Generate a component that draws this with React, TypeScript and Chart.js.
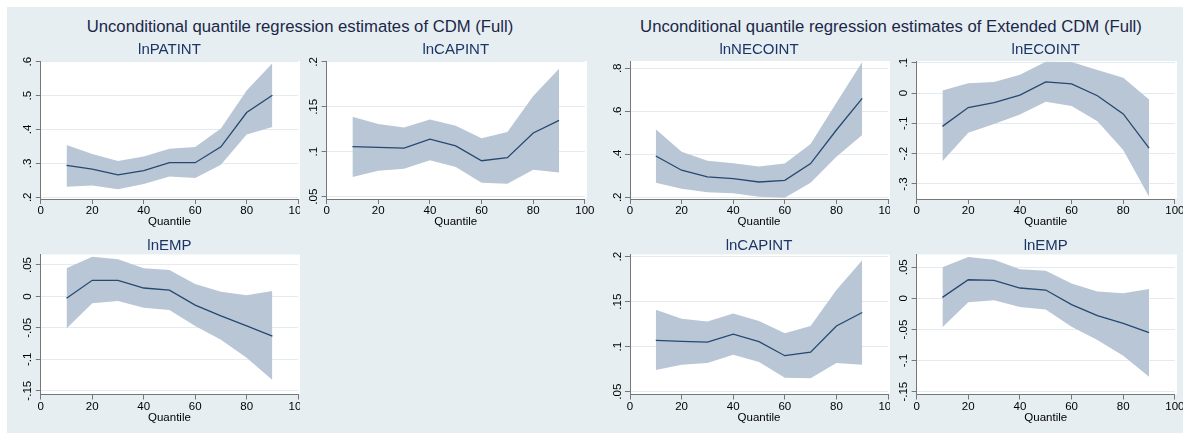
import React, { useEffect, useRef } from 'react';
import { Chart, registerables } from 'chart.js';

Chart.register(...registerables);

// ---------- data ----------
const quantiles = [10, 20, 30, 40, 50, 60, 70, 80, 90];
const xTicks = [0, 20, 40, 60, 80, 100];

// CDM (Full)
const cdmPatintEst = [0.294, 0.283, 0.266, 0.279, 0.302, 0.302, 0.349, 0.45, 0.501];
const cdmPatintHi = [0.354, 0.328, 0.307, 0.32, 0.343, 0.348, 0.403, 0.515, 0.595];
const cdmPatintLo = [0.231, 0.235, 0.224, 0.239, 0.261, 0.257, 0.296, 0.385, 0.407];

const cdmCapintEst = [0.1057, 0.105, 0.104, 0.114, 0.1065, 0.09, 0.0935, 0.121, 0.135];
const cdmCapintHi = [0.139, 0.131, 0.127, 0.136, 0.129, 0.115, 0.122, 0.162, 0.1926];
const cdmCapintLo = [0.072, 0.079, 0.081, 0.0905, 0.083, 0.0656, 0.0645, 0.08, 0.077];

const cdmEmpEst = [-0.003, 0.0256, 0.0256, 0.0134, 0.01, -0.0137, -0.031, -0.047, -0.063];
const cdmEmpHi = [0.045, 0.063, 0.059, 0.0447, 0.042, 0.0198, 0.0076, 0.002, 0.0086];
const cdmEmpLo = [-0.051, -0.011, -0.0073, -0.018, -0.0216, -0.047, -0.069, -0.0975, -0.133];

// Extended CDM (Full)
const extNecointEst = [0.392, 0.326, 0.295, 0.287, 0.271, 0.279, 0.357, 0.513, 0.66];
const extNecointHi = [0.516, 0.412, 0.37, 0.358, 0.343, 0.357, 0.448, 0.64, 0.829];
const extNecointLo = [0.268, 0.24, 0.223, 0.219, 0.203, 0.198, 0.268, 0.389, 0.49];

const extEcointEst = [-0.11, -0.048, -0.032, -0.0066, 0.037, 0.03, -0.009, -0.069, -0.182];
const extEcointHi = [0.008, 0.032, 0.036, 0.06, 0.103, 0.102, 0.076, 0.05, -0.021];
const extEcointLo = [-0.225, -0.131, -0.102, -0.071, -0.029, -0.043, -0.093, -0.188, -0.342];

const extCapintEst = [0.107, 0.106, 0.105, 0.114, 0.1056, 0.09, 0.094, 0.123, 0.138];
const extCapintHi = [0.141, 0.131, 0.128, 0.137, 0.1285, 0.115, 0.123, 0.163, 0.196];
const extCapintLo = [0.074, 0.08, 0.082, 0.091, 0.083, 0.0656, 0.065, 0.082, 0.08];

const extEmpEst = [0.0017, 0.03, 0.029, 0.0167, 0.0135, -0.01, -0.0277, -0.04, -0.055];
const extEmpHi = [0.05, 0.0666, 0.062, 0.047, 0.0446, 0.024, 0.011, 0.0082, 0.015];
const extEmpLo = [-0.0465, -0.0063, -0.003, -0.014, -0.018, -0.0454, -0.067, -0.092, -0.126];

// y tick values
const patTicks = [0.2, 0.3, 0.4, 0.5, 0.6];
const capTicks = [0.05, 0.1, 0.15, 0.2];
const empTicks = [-0.15, -0.1, -0.05, 0, 0.05];
const necoTicks = [0.2, 0.4, 0.6, 0.8];
const ecoTicks = [-0.3, -0.2, -0.1, 0, 0.1];

const leftTitle = 'Unconditional quantile regression estimates of CDM (Full)';
const rightTitle = 'Unconditional quantile regression estimates of Extended CDM (Full)';
const xTitle = 'Quantile';

// ---------- style ----------
const FONT = '"Liberation Sans", Arial, Helvetica, sans-serif';
const BG = '#e6eef1';
const BAND = '#b9c6d5';
const LINE = '#264870';
const AXIS = '#777777';
const GRID = '#e3ebee';
const TEXT = '#000000';
const TICK_SIZE = 11.5;

const COLS = [
  { left: 8, right: 300, chartLeft: 40.8, chartRight: 298.1 },
  { left: 300, right: 598, chartLeft: 326.6, chartRight: 584.9 },
  { left: 598, right: 890, chartLeft: 630, chartRight: 888 },
  { left: 890, right: 1183, chartLeft: 916.6, chartRight: 1174.9 },
];
const ROWS = [
  { top: 38, bottom: 232, chartTop: 61, chartBottom: 199, quantileY: 222, titleY: 49.2 },
  { top: 232, bottom: 433, chartTop: 254.5, chartBottom: 394.5, quantileY: 418.3, titleY: 244.5 },
];

const panels = [
  { title: 'lnPATINT', col: 0, row: 0, est: cdmPatintEst, hi: cdmPatintHi, lo: cdmPatintLo, ticks: patTicks, yMin: 0.195, yMax: 0.602 },
  { title: 'lnCAPINT', col: 1, row: 0, est: cdmCapintEst, hi: cdmCapintHi, lo: cdmCapintLo, ticks: capTicks, yMin: 0.0474, yMax: 0.2011 },
  { title: 'lnEMP', col: 0, row: 1, est: cdmEmpEst, hi: cdmEmpHi, lo: cdmEmpLo, ticks: empTicks, yMin: -0.156, yMax: 0.0667 },
  { title: 'lnNECOINT', col: 2, row: 0, est: extNecointEst, hi: extNecointHi, lo: extNecointLo, ticks: necoTicks, yMin: 0.192, yMax: 0.834 },
  { title: 'lnECOINT', col: 3, row: 0, est: extEcointEst, hi: extEcointHi, lo: extEcointLo, ticks: ecoTicks, yMin: -0.3495, yMax: 0.1056 },
  { title: 'lnCAPINT', col: 2, row: 1, est: extCapintEst, hi: extCapintHi, lo: extCapintLo, ticks: capTicks, yMin: 0.0469, yMax: 0.2024 },
  { title: 'lnEMP', col: 3, row: 1, est: extEmpEst, hi: extEmpHi, lo: extEmpLo, ticks: empTicks, yMin: -0.1545, yMax: 0.0706 },
];

function fmtTick(v: number): string {
  if (Math.abs(v) < 1e-12) return '0';
  const s = String(+v.toFixed(4));
  return s.replace(/^(-?)0\./, '$1.');
}

const bgPlugin = {
  id: 'stataBg',
  beforeDraw(chart: any) {
    const { ctx, chartArea, width, height } = chart;
    ctx.save();
    ctx.fillStyle = BG;
    ctx.fillRect(0, 0, width, height);
    ctx.fillStyle = '#ffffff';
    ctx.fillRect(chartArea.left, chartArea.top, chartArea.right - chartArea.left + 2, chartArea.bottom - chartArea.top);
    ctx.restore();
  },
};

const yLabelPlugin = {
  id: 'rotatedYLabels',
  afterDraw(chart: any) {
    const s = chart.scales.y;
    const ctx = chart.ctx;
    ctx.save();
    ctx.font = `${TICK_SIZE}px ${FONT}`;
    ctx.fillStyle = TEXT;
    ctx.textAlign = 'center';
    ctx.textBaseline = 'alphabetic';
    s.ticks.forEach((t: any) => {
      const y = s.getPixelForValue(t.value);
      ctx.save();
      ctx.translate(chart.chartArea.left - 9.5, y);
      ctx.rotate(-Math.PI / 2);
      ctx.fillText(fmtTick(t.value), 0, 0);
      ctx.restore();
    });
    ctx.restore();
  },
};

function Panel({ p }: { p: any }) {
  const ref = useRef<HTMLCanvasElement | null>(null);
  const col = COLS[p.col];
  const row = ROWS[p.row];
  const w = col.right - col.left;
  const h = row.bottom - row.top;

  useEffect(() => {
    if (!ref.current) return;
    const yw = col.chartLeft - col.left;
    const xh = row.bottom - row.chartBottom;
    const lh = TICK_SIZE * 1.2;
    const pts = (arr: number[]) => quantiles.map((q, i) => ({ x: q, y: arr[i] }));
    const chart = new Chart(ref.current, {
      type: 'line',
      data: {
        datasets: [
          { data: pts(p.est), borderColor: LINE, borderWidth: 1.3, pointRadius: 0, fill: false, tension: 0 },
          { data: pts(p.hi), borderColor: 'rgba(0,0,0,0)', borderWidth: 0, backgroundColor: BAND, pointRadius: 0, fill: '+1', tension: 0 },
          { data: pts(p.lo), borderColor: 'rgba(0,0,0,0)', borderWidth: 0, pointRadius: 0, fill: false, tension: 0 },
        ],
      },
      options: {
        animation: false,
        responsive: false,
        maintainAspectRatio: false,
        events: [],
        layout: { padding: { left: 0, top: row.chartTop - row.top, right: col.right - col.chartRight, bottom: 0 } },
        plugins: { legend: { display: false }, tooltip: { enabled: false }, title: { display: false } },
        scales: {
          x: {
            type: 'linear',
            min: 0,
            max: 100,
            afterBuildTicks: (s: any) => { s.ticks = xTicks.map((v) => ({ value: v })); },
            afterFit: (s: any) => { s.height = xh; s.paddingLeft = 0; s.paddingRight = 0; },
            ticks: { font: { family: FONT, size: TICK_SIZE }, color: TEXT, padding: 0, maxRotation: 0, autoSkip: false, callback: (v: any) => String(v) },
            grid: { drawOnChartArea: false, drawTicks: true, tickLength: 5, color: AXIS, tickColor: AXIS },
            border: { display: true, color: AXIS, width: 1 },
            title: { display: true, text: xTitle, font: { family: FONT, size: TICK_SIZE }, color: TEXT, padding: { top: 0, bottom: row.bottom - row.quantileY - lh / 2 } },
          },
          y: {
            type: 'linear',
            min: p.yMin,
            max: p.yMax,
            afterBuildTicks: (s: any) => { s.ticks = p.ticks.map((v: number) => ({ value: v })); },
            afterFit: (s: any) => { s.width = yw; s.paddingTop = 0; s.paddingBottom = 0; },
            ticks: { display: false },
            grid: { drawOnChartArea: true, drawTicks: true, tickLength: 5, color: GRID, tickColor: AXIS },
            border: { display: true, color: AXIS, width: 1 },
          },
        },
      } as any,
      plugins: [bgPlugin, yLabelPlugin],
    });
    return () => chart.destroy();
  }, []);

  return (
    <canvas
      ref={ref}
      width={w}
      height={h}
      style={{ position: 'absolute', left: col.left, top: row.top, width: w, height: h, display: 'block' }}
    />
  );
}

export default function App() {
  const titleStyle = (cx: number, cy: number, size: number, lhPx: number, capCenter: number, color: string): React.CSSProperties => ({
    position: 'absolute',
    left: cx - 300,
    width: 600,
    top: cy - capCenter,
    textAlign: 'center',
    whiteSpace: 'nowrap',
    fontFamily: FONT,
    fontSize: size,
    lineHeight: `${lhPx}px`,
    color,
  });

  return (
    <div style={{ position: 'fixed', left: 0, top: 0, right: 0, bottom: 0, background: '#ffffff', overflow: 'hidden' }}>
      <div style={{ position: 'absolute', left: 7, top: 7, right: 0, bottom: 0, background: BG }} />
      {panels.map((p, i) => (
        <Panel key={i} p={p} />
      ))}
      <div style={titleStyle(300, 27, 16.7, 20, 9.8, '#1b2748')}>{leftTitle}</div>
      <div style={titleStyle(891, 27, 16.7, 20, 9.8, '#1b2748')}>{rightTitle}</div>
      {panels.map((p, i) => {
        const col = COLS[p.col];
        const row = ROWS[p.row];
        const cx = (col.chartLeft + col.chartRight) / 2;
        return (
          <div key={'t' + i} style={titleStyle(cx, row.titleY, 15, 18, 8.85, '#1c3566')}>
            {p.title}
          </div>
        );
      })}
    </div>
  );
}
